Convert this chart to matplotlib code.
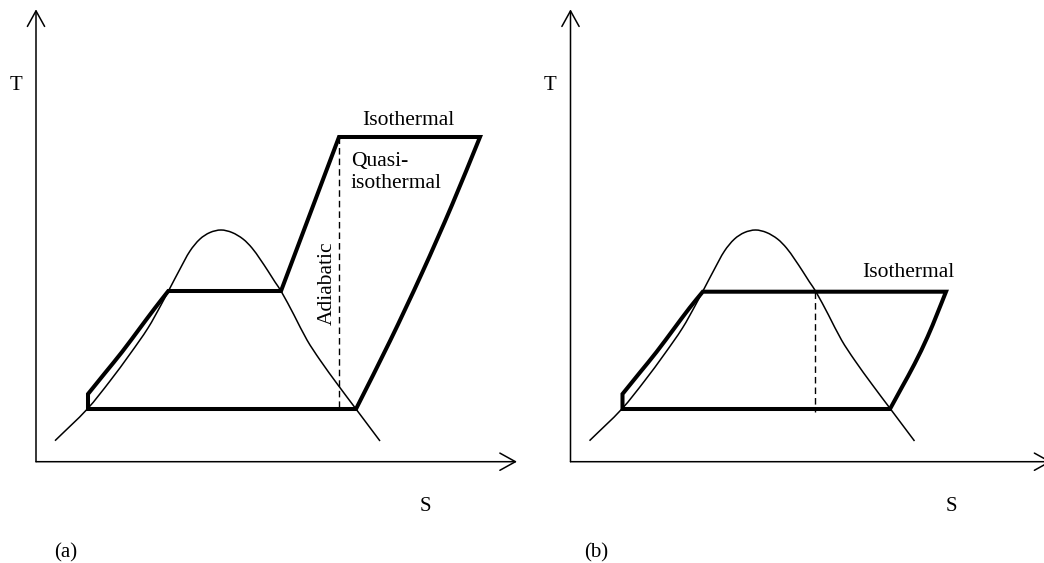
import numpy as np
import matplotlib
matplotlib.use("Agg")
import matplotlib.pyplot as plt
from matplotlib.path import Path
from matplotlib.patches import PathPatch

plt.rcParams['font.family'] = ['Liberation Serif', 'DejaVu Serif']

# saturation dome (entropy S, temperature T), same in both panels
dome_s = [19, 51.3, 74, 94, 112, 125, 134, 144, 154, 164, 174, 185, 196,
          207, 216, 224, 232, 239, 245, 258, 271, 284, 302, 320, 344]
dome_t = [21, 52.7, 80.7, 107.7, 133.7, 156.7, 173.7, 192.7, 210.7, 222.7,
          229.2, 231.7, 229.2, 222.7, 213.7, 202.7, 190.7, 179.7, 170.7,
          146.7, 121.7, 101.7, 76.7, 52.7, 20.7]

# condensing temperature and the liquid pumping/heating leg
t_low = 52.7
s_low_left = 52
t_pump = 67.7
heat_s = [52, 69, 86, 104, 119, 132.3]
heat_t = [67.7, 88.7, 109.7, 133.7, 153.7, 170.7]

# (a) boiling, adiabatic compression, isothermal heat addition, expansion
t_boil_a = 170.7
s_vap_a = 245
t_high_a = 324.7
s_comp_top_a = 303
exp_s_a = [444, 416, 386, 354, 320]
exp_t_a = [324.7, 256.7, 188.7, 120.7, 52.7]

# (b) isothermal heat addition straight from the boiling line
t_boil_b = 170
s_vap_b = 244.5
exp_s_b = [375.5, 367, 357, 344, 331, 319.5]
exp_t_b = [170, 148.7, 124.7, 97.7, 73.7, 52.7]

THICK = 2.9
THIN = 1.1


def smooth_segments(points):
    # cubic bezier pieces through the points, tangents scaled by chord length
    pts = np.asarray(points, float)
    d = np.hypot(*np.diff(pts, axis=0).T)
    n = len(pts)
    tan = np.empty_like(pts)
    tan[0] = (pts[1] - pts[0]) / d[0]
    tan[-1] = (pts[-1] - pts[-2]) / d[-1]
    for i in range(1, n - 1):
        tan[i] = (pts[i + 1] - pts[i - 1]) / (d[i - 1] + d[i])
    verts = []
    for i in range(n - 1):
        verts += [pts[i] + tan[i] * d[i] / 3,
                  pts[i + 1] - tan[i + 1] * d[i] / 3,
                  pts[i + 1]]
    return verts, [Path.CURVE4] * len(verts)


def build_path(start, parts, close=False):
    verts = [start]
    codes = [Path.MOVETO]
    for kind, pts in parts:
        if kind == 'line':
            verts += list(pts)
            codes += [Path.LINETO] * len(pts)
        else:
            v, c = smooth_segments([verts[-1]] + list(pts))
            verts += v
            codes += c
    if close:
        verts.append(start)
        codes.append(Path.CLOSEPOLY)
    return Path(np.asarray(verts, float), codes)


def draw_axes(ax, tip_s, label):
    arrow = dict(arrowstyle='->,head_length=1.12,head_width=0.62', lw=1.1,
                 color='black', shrinkA=0, shrinkB=0, mutation_scale=10)
    ax.annotate('', xy=(0, 452.4), xytext=(0, 0), arrowprops=arrow)
    ax.annotate('', xy=(tip_s, 0), xytext=(0, 0), arrowprops=arrow)
    ax.text(-20, 376, 'T', fontsize=15, ha='center', va='center')
    ax.text(label[0], -45, 'S', fontsize=15, ha='center', va='center')
    ax.text(label[1], -91, label[2], fontsize=15, ha='center', va='center')


def draw_dome(ax):
    dome = build_path((dome_s[0], dome_t[0]),
                      [('curve', list(zip(dome_s[1:], dome_t[1:])))])
    ax.add_patch(PathPatch(dome, fill=False, lw=THIN, color='black'))


fig = plt.figure(figsize=(10.44, 5.63), dpi=100)
ax_a = fig.add_axes([0, 0, 522 / 1044, 1])
ax_b = fig.add_axes([534.5 / 1044, 0, 522 / 1044, 1])
for ax in (ax_a, ax_b):
    ax.set_xlim(-36, 486)
    ax.set_ylim(-101.3, 461.7)
    ax.axis('off')

# panel (a)
draw_axes(ax_a, 481, (389, 30, '(a)'))
draw_dome(ax_a)
cycle_a = build_path(
    (exp_s_a[-1], t_low),
    [('line', [(s_low_left, t_low), (s_low_left, t_pump)]),
     ('curve', list(zip(heat_s[1:], heat_t[1:]))),
     ('line', [(s_vap_a, t_boil_a), (s_comp_top_a, t_high_a),
               (exp_s_a[0], exp_t_a[0])]),
     ('curve', list(zip(exp_s_a[1:-1], exp_t_a[1:-1])) + [(exp_s_a[-1], t_low)])],
    close=True)
pa = PathPatch(cycle_a, fill=False, lw=THICK, color='black')
pa.set_joinstyle('miter')
ax_a.add_patch(pa)
ax_a.plot([s_comp_top_a, s_comp_top_a], [t_high_a, t_low], color='black',
          lw=1.0, dashes=(4.7, 2.9))
ax_a.text(372, 336.7, 'Isothermal', fontsize=15.5, ha='center', va='baseline')
ax_a.text(314.7, 296, 'Quasi-', fontsize=15.5, ha='left', va='baseline')
ax_a.text(314.7, 273.4, 'isothermal', fontsize=15.5, ha='left', va='baseline')
ax_a.text(291.5, 178.4, 'Adiabatic', fontsize=15.5, ha='center', va='center',
          rotation=90)

# panel (b)
draw_axes(ax_b, 481, (380.5, 25.5, '(b)'))
draw_dome(ax_b)
cycle_b = build_path(
    (exp_s_b[-1], t_low),
    [('line', [(s_low_left, t_low), (s_low_left, t_pump)]),
     ('curve', list(zip(heat_s[1:-1], heat_t[1:-1])) + [(heat_s[-1], t_boil_b)]),
     ('line', [(exp_s_b[0], exp_t_b[0])]),
     ('curve', list(zip(exp_s_b[1:-1], exp_t_b[1:-1])) + [(exp_s_b[-1], t_low)])],
    close=True)
pb = PathPatch(cycle_b, fill=False, lw=THICK, color='black')
pb.set_joinstyle('miter')
ax_b.add_patch(pb)
ax_b.plot([s_vap_b, s_vap_b], [t_boil_b, 50], color='black',
          lw=1.0, dashes=(4.7, 2.9))
ax_b.text(338.2, 185, 'Isothermal', fontsize=15.5, ha='center', va='baseline')

fig.savefig('out.png', dpi=100)
